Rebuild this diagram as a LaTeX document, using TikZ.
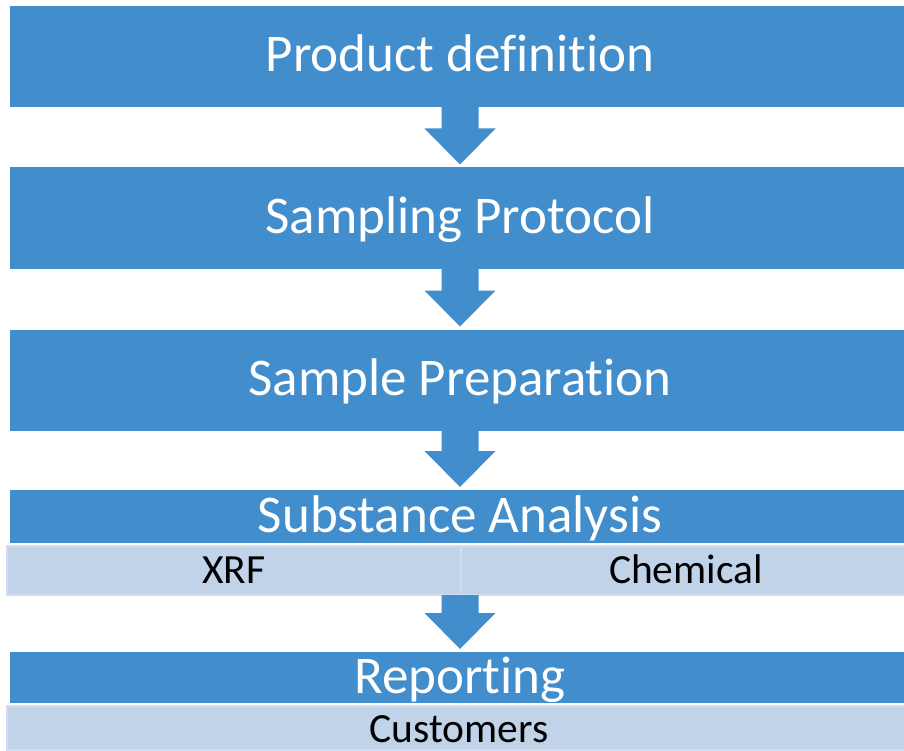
\documentclass[tikz,border=0pt]{standalone}
\usepackage{fontspec}
\setmainfont[Ligatures=NoCommon]{Carlito}
\usetikzlibrary{calc}
\definecolor{darkblue}{HTML}{428ECC}
\definecolor{lightfill}{HTML}{C0D3E9}
\definecolor{lightedge}{HTML}{CFDDEE}
\tikzset{
  stage/.style={fill=darkblue, text=white, inner sep=0pt, outer sep=0pt,
    minimum width=900pt, font=\fontsize{53}{60}\selectfont,
    text height=31pt, text depth=0pt},
  subcell/.style={fill=lightfill, draw=lightedge, line width=2pt, text=black,
    inner sep=0pt, outer sep=0pt, minimum height=49pt,
    font=\fontsize{41.5}{48}\selectfont, text height=25pt, text depth=0pt},
  arrowfill/.style={fill=darkblue}
}
\newcommand{\flowarrow}[2]{%
  \fill[arrowfill] ($(#1)+(-18.5,0)$) -- ($(#2.north)+(-18.5,-39)$) -- ($(#2.north)+(-35.5,-39)$)
    -- ($(#2.north)+(0,-3)$) -- ($(#2.north)+(35.5,-39)$) -- ($(#2.north)+(18.5,-39)$)
    -- ($(#1)+(18.5,0)$) -- cycle;}
\begin{document}
\begin{tikzpicture}[x=1pt,y=-1pt]
\useasboundingbox (0,0) rectangle (904,751);
\node[stage, minimum height=101pt] (b1) at (460,56.5) {Product definition};
\node[stage, minimum height=101pt] (b2) at (460,218) {Sampling Protocol};
\node[stage, minimum height=101pt] (b3) at (460,380) {Sample Preparation};
\node[stage, minimum height=53pt] (b4) at (460,516.5) {Substance Analysis};
\node[subcell, minimum width=454pt] (c1) at (234,570.5) {XRF};
\node[subcell, minimum width=450pt] (c2) at (686,570.5) {Chemical};
\node[stage, minimum height=51pt] (b5) at (460,677.5) {Reporting};
\node[subcell, minimum width=904pt, minimum height=44pt, text height=29pt] (c3) at (459,728) {Customers};
\coordinate (s1) at (b1.south);
\coordinate (s2) at (b2.south);
\coordinate (s3) at (b3.south);
\coordinate (s4) at (b4.south |- c1.south);
\flowarrow{s1}{b2}
\flowarrow{s2}{b3}
\flowarrow{s3}{b4}
\flowarrow{s4}{b5}
\end{tikzpicture}
\end{document}
